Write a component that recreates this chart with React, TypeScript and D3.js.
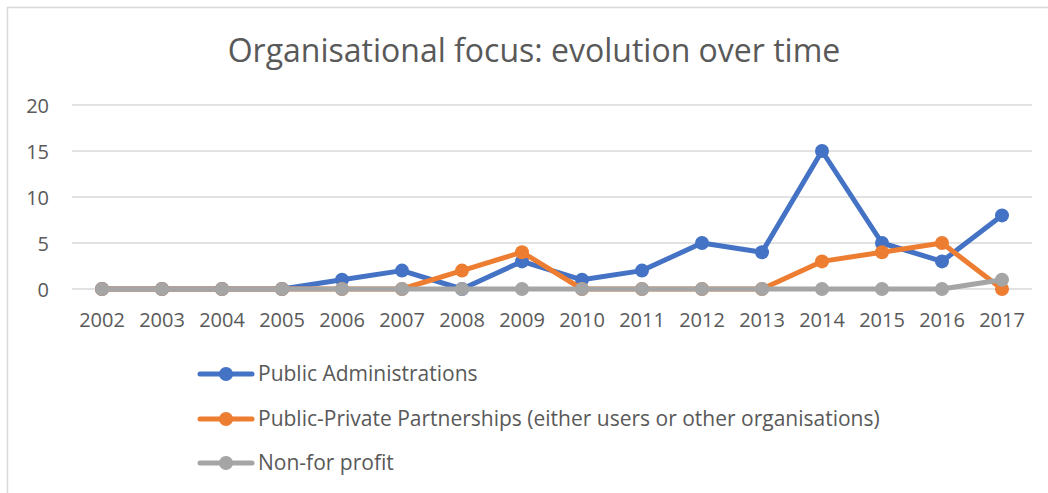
import React from "react";
import * as d3 from "d3";

const years = ["2002","2003","2004","2005","2006","2007","2008","2009","2010","2011","2012","2013","2014","2015","2016","2017"];
const publicAdmin = [0,0,0,0,1,2,0,3,1,2,5,4,15,5,3,8];
const ppp = [0,0,0,0,0,0,2,4,0,0,0,0,3,4,5,0];
const nonProfit = [0,0,0,0,0,0,0,0,0,0,0,0,0,0,0,1];
const yTicks = [0,5,10,15,20];
const seriesNames = ["Public Administrations","Public-Private Partnerships (either users or other organisations)","Non-for profit"];
const colors = ["#4472C4","#ED7D31","#A5A5A5"];
const title = "Organisational focus: evolution over time";

const W = 1048, H = 493;
const FONT = "'Open Sans', sans-serif";
const TXT = "#595959";

export default function App() {
  const x = d3.scaleBand<string>().domain(years).range([72, 1032]);
  const y = d3.scaleLinear().domain([0, 20]).range([289, 105]);
  const line = d3.line<number>()
    .x((_, i) => (x(years[i]) as number) + x.bandwidth() / 2)
    .y((d) => y(d));
  const allSeries = [publicAdmin, ppp, nonProfit];
  const legendY = [374, 419, 463];
  return (
    <svg width={W} height={H} style={{ position: "absolute", left: 0, top: 0 }}>
      <rect x={0} y={0} width={W} height={H} fill="#fff" />
      <rect x={7.5} y={7.5} width={W + 10} height={H + 10} fill="none" stroke="#D9D9D9" strokeWidth={1.5} />
      <text x={534} y={62} textAnchor="middle" fontFamily={FONT} fontSize={32} fill={TXT}>{title}</text>
      {yTicks.map((t) => (
        <g key={t}>
          <line x1={72} x2={1032} y1={y(t)} y2={y(t)} stroke="#D9D9D9" strokeWidth={1.5} />
          <text x={49} y={y(t) + 7.5} textAnchor="end" fontFamily={FONT} fontSize={20} fill={TXT}>{t}</text>
        </g>
      ))}
      {years.map((yr) => (
        <text key={yr} x={(x(yr) as number) + x.bandwidth() / 2} y={327} textAnchor="middle" fontFamily={FONT} fontSize={20} fill={TXT}>{yr}</text>
      ))}
      {allSeries.map((s, si) => (
        <g key={si}>
          <path d={line(s) as string} fill="none" stroke={colors[si]} strokeWidth={5} strokeLinejoin="round" strokeLinecap="round" />
          {s.map((v, i) => (
            <circle key={i} cx={(x(years[i]) as number) + x.bandwidth() / 2} cy={y(v)} r={7} fill={colors[si]} />
          ))}
        </g>
      ))}
      {seriesNames.map((n, i) => (
        <g key={n}>
          <line x1={200} x2={252} y1={legendY[i]} y2={legendY[i]} stroke={colors[i]} strokeWidth={5} strokeLinecap="round" />
          <circle cx={226} cy={legendY[i]} r={7} fill={colors[i]} />
          <text x={258} y={legendY[i] + 7} fontFamily={FONT} fontSize={21} fill={TXT}>{n}</text>
        </g>
      ))}
    </svg>
  );
}
